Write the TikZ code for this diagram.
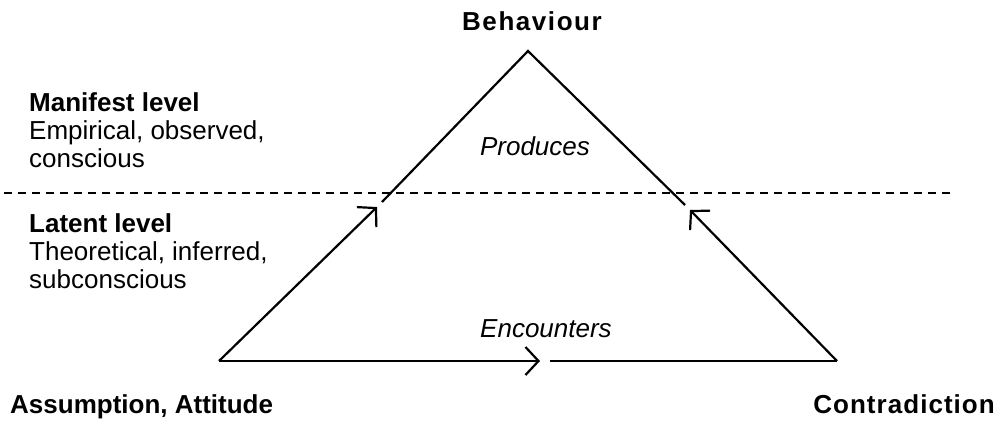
\documentclass[tikz,border=0pt]{standalone}
\usepackage{fontspec}
\setmainfont{Liberation Sans}
\usepackage{tikz}
\usetikzlibrary{arrows.meta,calc}
\tikzset{
  side/.style={line width=2.2pt, line cap=butt},
  arr/.style={side, -{Straight Barb[length=13pt, width=28pt, line width=2.2pt]}},
  sep/.style={line width=2pt, dash pattern=on 8pt off 6pt},
  lvl/.style={font=\fontsize{26}{29}\selectfont\bfseries, inner sep=0pt, anchor=base west},
  wide/.style={font=\fontsize{26}{29}\selectfont\bfseries\addfontfeature{LetterSpace=#1}},
  txt/.style={font=\fontsize{26}{29}\selectfont, inner sep=0pt, anchor=base west},
  verb/.style={font=\fontsize{26}{29}\selectfont\itshape, inner sep=0pt, anchor=base}
}

\begin{document}
\begin{tikzpicture}[x=1pt, y=-1pt]
\useasboundingbox (0,0) rectangle (1005,421);
% corners of the triangle
\coordinate (ass) at (219,361);
\coordinate (beh) at (528,51);
\coordinate (con) at (837,361);
% gaps in the sides
\coordinate (ltip) at (377,207);
\coordinate (lres) at (382,202);
\coordinate (rend) at (685,205);
\coordinate (rtip) at (690,210);
\coordinate (btip) at (540,361);
\coordinate (bres) at (550,361);
% level border
\coordinate (sepw) at (4,193);
\coordinate (sepe) at (953,193);
\draw[sep] (sepw) -- (sepe);

\draw[arr] (ass) -- (ltip);
\draw[side] (lres) -- (beh) -- (rend);
\draw[arr] (con) -- (rtip);
\draw[arr] (ass) -- (btip);
\draw[side] (bres) -- (con);

\node[lvl, wide=6, anchor=base] (behn) at (532,30) {Behaviour};
\node[lvl] (assn) at (10,413) {Assumption, Attitude};
\node[lvl, wide=4, anchor=base east] (conn) at (995,413) {Contradiction};
\node[verb] (prod) at (535,155) {Produces};
\node[verb] (enc) at (546,337) {Encounters};

\node[lvl] (man) at (29,111) {Manifest level};
\node[txt] (man1) at (29,139) {Empirical, observed,};
\node[txt] (man2) at (29,167) {conscious};
\node[lvl] (lat) at (29,232) {Latent level};
\node[txt] (lat1) at (29,260) {Theoretical, inferred,};
\node[txt] (lat2) at (29,288) {subconscious};
\end{tikzpicture}
\end{document}
